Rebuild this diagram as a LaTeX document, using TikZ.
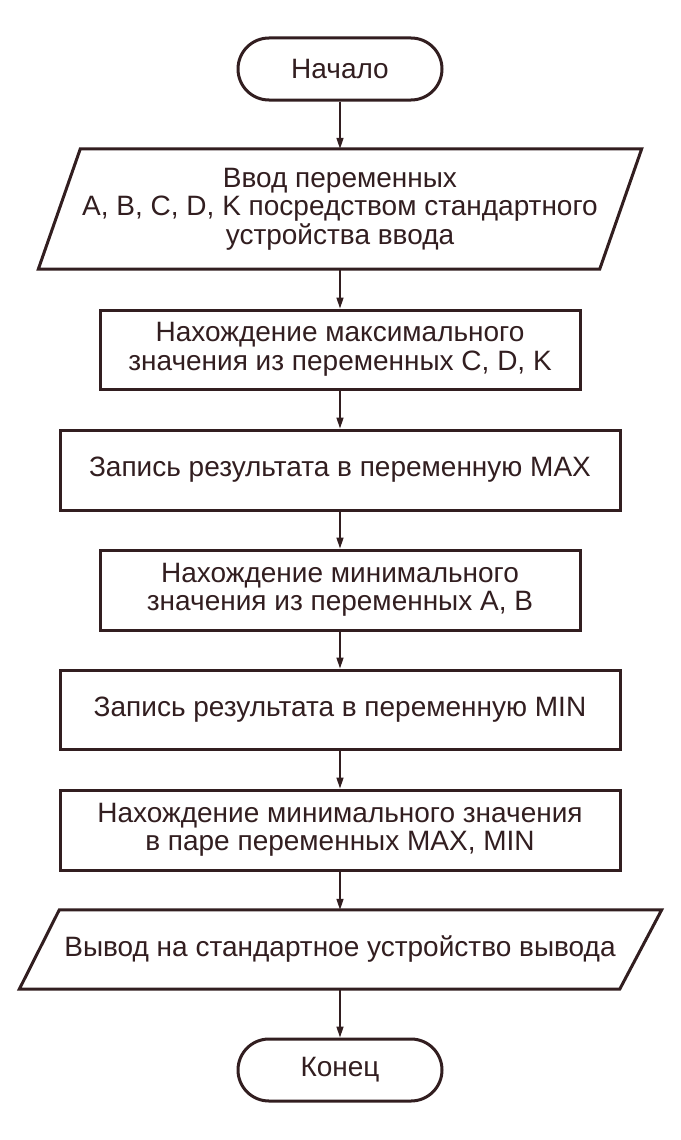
\documentclass[tikz,border=0pt]{standalone}
\usepackage{fontspec}
\setmainfont{Liberation Sans}
\usetikzlibrary{arrows.meta,calc}
\definecolor{ink}{RGB}{50,30,32}
\begin{document}
\begin{tikzpicture}[x=1pt,y=-1pt,
  every node/.style={inner sep=0pt, align=center, text=ink,
    font=\fontsize{28}{28.5}\selectfont},
  term/.style={draw=ink, line width=3pt, rounded corners=31pt,
    minimum width=204pt, minimum height=62pt},
  proc/.style={draw=ink, line width=3pt, minimum height=80pt},
  io/.style={minimum height=80pt},
  pgline/.style={draw=ink, line width=3pt, line join=miter},
  flow/.style={draw=ink, line width=1.5pt, -{Triangle[length=11pt,width=7pt]}}]
\useasboundingbox[fill=white] (0,0) rectangle (680,1140);
\node[term] (start) at (340,69) {Начало};
\node[io, minimum width=561pt, minimum height=120pt] (in) at (340,209)
  {Ввод переменных\\A, B, C, D, K посредством стандартного\\устройства ввода};
\node[proc, minimum width=480pt, minimum height=79pt] (b2) at (340,349.5)
  {Нахождение максимального\\значения из переменных C, D, K};
\node[proc, minimum width=560pt] (b3) at (340,470)
  {Запись результата в переменную MAX};
\node[proc, minimum width=480pt] (b4) at (340,590)
  {Нахождение минимального\\значения из переменных A, B};
\node[proc, minimum width=560pt, minimum height=79pt] (b5) at (340,709.5)
  {Запись результата в переменную MIN};
\node[proc, minimum width=560pt] (b6) at (340,830)
  {Нахождение минимального значения\\в паре переменных MAX, MIN};
\node[io, minimum width=601pt, minimum height=79pt] (out) at (340,949.5)
  {Вывод на стандартное устройство вывода};
\node[term] (end) at (340,1070) {Конец};
\draw[pgline] ($(in.north west)+(21,0)$) -- ($(in.north east)+(21,0)$)
  -- ($(in.south east)+(-21,0)$) -- ($(in.south west)+(-21,0)$) -- cycle;
\draw[pgline] ($(out.north west)+(20,0)$) -- ($(out.north east)+(21,0)$)
  -- ($(out.south east)+(-21,0)$) -- ($(out.south west)+(-20,0)$) -- cycle;
\draw[flow] (start) -- (in);
\draw[flow] (in) -- (b2);
\draw[flow] (b2) -- (b3);
\draw[flow] (b3) -- (b4);
\draw[flow] (b4) -- (b5);
\draw[flow] (b5) -- (b6);
\draw[flow] (b6) -- (out);
\draw[flow] (out) -- (end);
\end{tikzpicture}
\end{document}
